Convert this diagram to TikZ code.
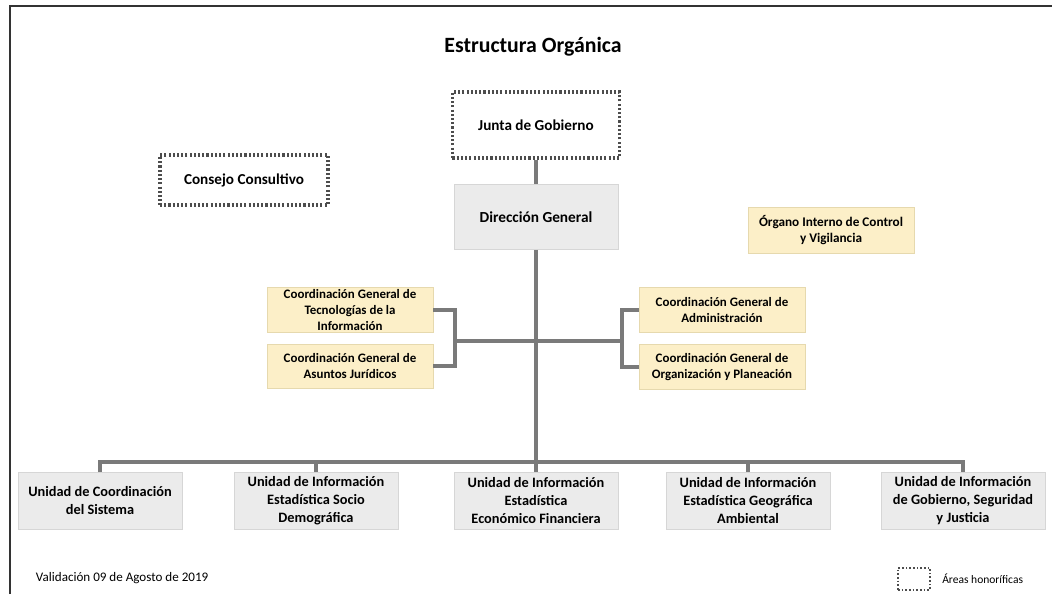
\documentclass[tikz,border=0pt]{standalone}
\usepackage{fontspec}
\setmainfont{Carlito}
\definecolor{linegray}{HTML}{7A7A7A}
\definecolor{dotcol}{HTML}{4D4D4D}
\definecolor{boxgray}{HTML}{EBEBEB}
\definecolor{boxgrayline}{HTML}{D6D6D6}
\definecolor{boxyellow}{HTML}{FCEFC8}
\definecolor{boxyellowline}{HTML}{E6D9AE}
\definecolor{framecol}{HTML}{333333}
\begin{document}
\begin{tikzpicture}[x=0.025cm,y=-0.025cm,
  honor/.style={draw=dotcol, line width=2.2pt, dash pattern=on 1.5pt off 1.5pt, align=center, inner sep=0pt, font=\bfseries\fontsize{10.8}{13}\selectfont},
  gbox/.style={fill=boxgray, draw=boxgrayline, line width=0.5pt, align=center, inner sep=0pt, font=\bfseries\fontsize{10.2}{12.8}\selectfont, minimum width=4.1cm},
  ybox/.style={fill=boxyellow, draw=boxyellowline, line width=0.5pt, align=center, inner sep=0pt, font=\bfseries\fontsize{9.2}{11.3}\selectfont, minimum width=4.15cm, minimum height=1.125cm},
  conn/.style={draw=linegray, line width=2.4pt}
]
\useasboundingbox (0,0) rectangle (1052,594);
\draw[framecol, line width=1.6pt] (10,594) -- (10,6) -- (1052,6);

\node[font=\bfseries\fontsize{15.5}{18}\selectfont] (title) at (533,47) {Estructura Orgánica};

\node[honor, minimum width=4.175cm, minimum height=1.65cm] (jg) at (536,125) {Junta de Gobierno};
\node[honor, minimum width=4.2cm, minimum height=1.25cm] (cc) at (244,180) {Consejo Consultivo};
\node[gbox, minimum height=1.625cm, font=\bfseries\fontsize{10.9}{13}\selectfont] (dg) at (536,217) {Dirección General};
\node[ybox, minimum height=1.15cm, font=\bfseries\fontsize{9.4}{11.8}\selectfont] (oic) at (831,230) {Órgano Interno de Control\\y Vigilancia};

\node[ybox] (ti) at (350,310) {Coordinación General de\\Tecnologías de la\\Información};
\node[ybox, minimum height=1.1cm] (aj) at (350,366) {Coordinación General de\\Asuntos Jurídicos};
\node[ybox] (ad) at (722,310) {Coordinación General de\\Administración};
\node[ybox] (op) at (722,367) {Coordinación General de\\Organización y Planeación};

\node[gbox, minimum height=1.425cm] (u1) at (100,501) {Unidad de Coordinación\\del Sistema};
\node[gbox, minimum height=1.425cm] (u2) at (316,501) {Unidad de Información\\Estadística Socio\\Demográfica};
\node[gbox, minimum height=1.425cm] (u3) at (536,501) {Unidad de Información\\Estadística\\Económico Financiera};
\node[gbox, minimum height=1.425cm] (u4) at (748,501) {Unidad de Información\\Estadística Geográfica\\Ambiental};
\node[gbox, minimum height=1.425cm] (u5) at (963,501) {Unidad de Información\\de Gobierno, Seguridad\\y Justicia};

\coordinate (bar) at (536,462);
\coordinate (lj) at (455,341);
\coordinate (rj) at (622,341);

\draw[conn] (jg.south) -- (dg.north);
\draw[conn] (dg.south) -- (bar);
\draw[conn] (u1.north) -- (u1.north |- bar) -- (u5.north |- bar) -- (u5.north);
\draw[conn] (u2.north) -- (u2.north |- bar);
\draw[conn] (u3.north) -- (bar);
\draw[conn] (u4.north) -- (u4.north |- bar);
\draw[conn] (ti.east) -| (lj) |- (aj.east);
\draw[conn] (lj) -- (rj);
\draw[conn] (ad.west) -| (rj) |- (op.west);

\node[anchor=west, font=\fontsize{9.3}{11}\selectfont] (val) at (31,578) {Validación 09 de Agosto de 2019};
\node[draw=dotcol, line width=1.5pt, dash pattern=on 1.2pt off 1.4pt, minimum width=0.8cm, minimum height=0.55cm, inner sep=0pt] (lg) at (914,579) {};
\node[anchor=west, font=\fontsize{8.2}{10}\selectfont, inner sep=0pt] (lgt) at (942,579) {Áreas honoríficas};
\end{tikzpicture}
\end{document}
